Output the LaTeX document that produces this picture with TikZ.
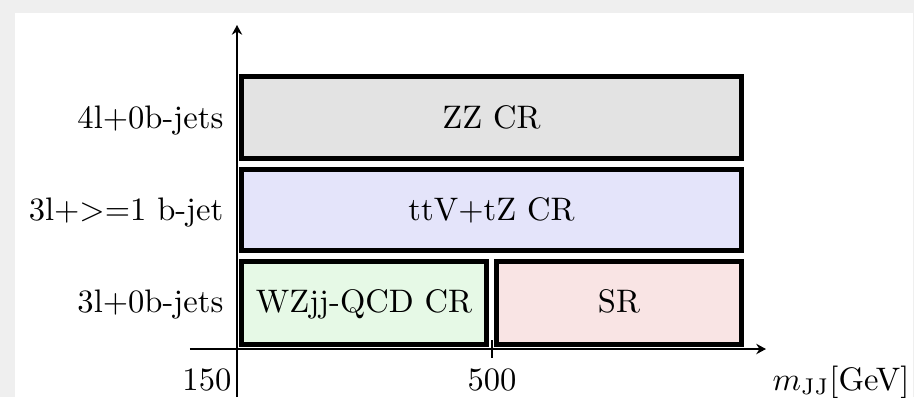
\documentclass[tikz,border=0pt]{standalone}
\usetikzlibrary{arrows.meta}
\definecolor{bggray}{HTML}{EFEFEF}
\definecolor{zzfill}{HTML}{E3E3E3}
\definecolor{ttvfill}{HTML}{E4E4FA}
\definecolor{wzfill}{HTML}{E6F9E6}
\definecolor{srfill}{HTML}{F9E4E4}
\tikzset{
  region/.style={draw=black, line width=1.4pt, inner sep=0pt, outer sep=0pt},
  axisline/.style={line width=0.6pt, -{Stealth[length=3pt,width=3.2pt,inset=1pt]}},
  rowlabel/.style={anchor=base east, inner sep=0pt},
  boxtext/.style={anchor=base, inner sep=0pt}
}
\begin{document}
\begin{tikzpicture}[x=0.307pt, y=-0.307pt]
\useasboundingbox (0,0) rectangle (914,397);
\fill[bggray] (0,0) rectangle (914,397);
\fill[white] (15,13) rectangle (913,397);
% axes
\coordinate (yb) at (237,397);
\coordinate (yt) at (237,25);
\coordinate (xl) at (190,349);
\coordinate (xr) at (766,349);
\draw[axisline] (yb) -- (yt);
\draw[axisline] (xl) -- (xr);
% regions
\draw[region, fill=zzfill] (241.5,76.5) rectangle (741.5,158.5);
\draw[region, fill=ttvfill] (241.5,169.5) rectangle (741.5,250.5);
\draw[region, fill=wzfill] (241.5,261.5) rectangle (486.5,344.5);
\draw[region, fill=srfill] (496.5,261.5) rectangle (741.5,344.5);
\node[boxtext] (zz) at (491.5,128) {ZZ CR};
\node[boxtext] (ttv) at (491.5,220.5) {ttV+tZ CR};
\node[boxtext] (wz) at (364,312.5) {WZjj-QCD CR};
\node[boxtext] (sr) at (619,312.5) {SR};
% row labels
\node[rowlabel] (l4) at (224,128) {4l+0b-jets};
\node[rowlabel] (l3b) at (224,220.5) {3l+>=1 b-jet};
\node[rowlabel] (l30) at (224,312.5) {3l+0b-jets};
% tick
\coordinate (tt) at (492,340);
\coordinate (tb) at (492,358);
\draw[line width=0.6pt] (tt) -- (tb);
% axis labels
\node[anchor=base east, inner sep=0pt] (t150) at (232,390) {150};
\node[anchor=base, inner sep=0pt] (t500) at (492,390) {500};
\node[anchor=base east, inner sep=0pt] (xlab) at (910,390) {$m_{\mathrm{JJ}}$[GeV]};
\end{tikzpicture}
\end{document}
